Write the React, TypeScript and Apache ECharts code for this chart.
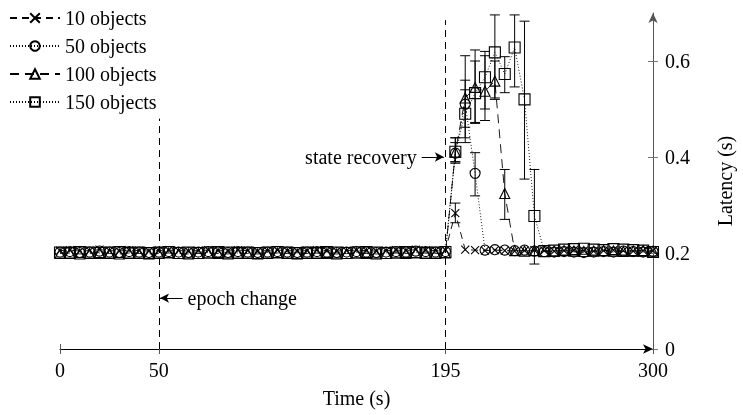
import React, { useEffect, useRef } from "react";
import * as echarts from "echarts";

const times = [
  0, 5, 10, 15, 20, 25, 30, 35, 40, 45, 50, 55, 60, 65, 70, 75, 80, 85, 90, 95,
  100, 105, 110, 115, 120, 125, 130, 135, 140, 145, 150, 155, 160, 165, 170, 175, 180, 185, 190, 195,
  200, 205, 210, 215, 220, 225, 230, 235, 240, 245, 250, 255, 260, 265, 270, 275, 280, 285, 290, 295, 300,
];

const xTickValues = [0, 50, 195, 300];
const yTickValues = [0, 0.2, 0.4, 0.6];
const seriesNames = ["10 objects", "50 objects", "100 objects", "150 objects"];

const latency10 = [
  0.205, 0.206, 0.204, 0.205, 0.207, 0.205, 0.204, 0.206, 0.205, 0.204,
  0.205, 0.206, 0.205, 0.204, 0.205, 0.206, 0.205, 0.204, 0.206, 0.205,
  0.204, 0.205, 0.206, 0.205, 0.204, 0.205, 0.206, 0.205, 0.204, 0.205,
  0.206, 0.205, 0.204, 0.205, 0.206, 0.205, 0.207, 0.206, 0.205, 0.206,
  0.283,
  0.207, 0.206, 0.205, 0.206, 0.205, 0.204, 0.205, 0.206, 0.205, 0.204,
  0.205, 0.206, 0.205, 0.204, 0.205, 0.206, 0.205, 0.204, 0.205, 0.205,
];
const latency50 = [
  0.202, 0.203, 0.201, 0.202, 0.204, 0.202, 0.201, 0.203, 0.202, 0.201,
  0.202, 0.203, 0.202, 0.201, 0.202, 0.203, 0.202, 0.201, 0.203, 0.202,
  0.201, 0.202, 0.203, 0.202, 0.201, 0.202, 0.203, 0.202, 0.201, 0.202,
  0.203, 0.202, 0.201, 0.202, 0.203, 0.202, 0.204, 0.203, 0.202, 0.203,
  0.408, 0.51, 0.366,
  0.206, 0.207, 0.206, 0.205, 0.206, 0.204, 0.203, 0.202, 0.203, 0.202,
  0.201, 0.202, 0.203, 0.202, 0.204, 0.203, 0.202, 0.203,
];
const latency100 = [
  0.199, 0.2, 0.198, 0.199, 0.201, 0.199, 0.198, 0.2, 0.199, 0.198,
  0.199, 0.2, 0.199, 0.198, 0.199, 0.2, 0.199, 0.198, 0.2, 0.199,
  0.198, 0.199, 0.2, 0.199, 0.198, 0.199, 0.2, 0.199, 0.198, 0.199,
  0.2, 0.199, 0.198, 0.199, 0.2, 0.199, 0.201, 0.2, 0.199, 0.2,
  0.41, 0.523, 0.545, 0.537, 0.558, 0.324,
  0.205, 0.204, 0.205, 0.203, 0.204, 0.205, 0.204, 0.203, 0.204, 0.205,
  0.204, 0.203, 0.204, 0.205, 0.204,
];
const latency150 = [
  0.201, 0.2, 0.202, 0.201, 0.2, 0.201, 0.202, 0.2, 0.201, 0.2,
  0.201, 0.202, 0.2, 0.201, 0.2, 0.201, 0.202, 0.201, 0.2, 0.201,
  0.2, 0.201, 0.202, 0.201, 0.2, 0.201, 0.2, 0.202, 0.201, 0.2,
  0.201, 0.202, 0.201, 0.2, 0.201, 0.202, 0.201, 0.2, 0.201, 0.202,
  0.411, 0.49, 0.533, 0.566, 0.618, 0.573, 0.628, 0.52, 0.277,
  0.204, 0.205, 0.207, 0.208, 0.209, 0.207, 0.206, 0.208, 0.207, 0.206,
  0.205, 0.202,
];

// error bars: [time, low, high]
const err10 = [[200, 0.263, 0.304]];
const err50 = [[200, 0.39, 0.43], [205, 0.462, 0.56], [210, 0.319, 0.409]];
const err100 = [
  [200, 0.39, 0.44], [205, 0.43, 0.611], [210, 0.472, 0.623],
  [215, 0.476, 0.611], [220, 0.52, 0.6], [225, 0.27, 0.374],
];
const err150 = [
  [200, 0.387, 0.44], [205, 0.44, 0.54], [210, 0.47, 0.6], [215, 0.5, 0.62],
  [220, 0.523, 0.696], [225, 0.534, 0.609], [230, 0.546, 0.696],
  [235, 0.354, 0.683], [240, 0.177, 0.374],
];

const epochTime = 50;
const epochLineTop = 0.48;
const recoveryTime = 195;
const recoveryLineTop = 0.685;
const epochLabelY = 0.106;
const recoveryLabelY = 0.4;

const FONT = "Liberation Serif";

function errorSeries(data: number[][]) {
  return {
    type: "custom",
    silent: true,
    z: 3,
    encode: { x: 0, y: [1, 2] },
    data,
    renderItem: (_params: any, api: any) => {
      const x = api.value(0);
      const lo = api.coord([x, api.value(1)]);
      const hi = api.coord([x, api.value(2)]);
      const hw = 5;
      const style = { stroke: "#000", lineWidth: 1, fill: "none" };
      return {
        type: "group",
        children: [
          { type: "line", shape: { x1: lo[0], y1: lo[1], x2: hi[0], y2: hi[1] }, style },
          { type: "line", shape: { x1: lo[0] - hw, y1: lo[1], x2: lo[0] + hw, y2: lo[1] }, style },
          { type: "line", shape: { x1: hi[0] - hw, y1: hi[1], x2: hi[0] + hw, y2: hi[1] }, style },
        ],
      };
    },
  };
}

const symbols = [
  "path://M0,0L10,10M0,10L10,0",
  "circle",
  "triangle",
  "rect",
];
const symbolSizes = [8, 10, 10, 11];
const dashTypes: any[] = [[7, 5], [1, 2], [9, 6], [1, 2]];
const values = [latency10, latency50, latency100, latency150];
const errors = [err10, err50, err100, err150];

export default function App() {
  const ref = useRef<HTMLDivElement>(null);
  useEffect(() => {
    if (!ref.current) return;
    const chart = echarts.init(ref.current, undefined, { renderer: "svg" });
    const lineSeries: any[] = seriesNames.map((name, k) => ({
      name,
      type: "line",
      data: times.map((t, i) => [t, values[k][i]]),
      symbol: symbols[k],
      symbolSize: symbolSizes[k],
      showSymbol: true,
      color: "#000",
      itemStyle: { color: "rgba(0,0,0,0)", borderColor: "#000", borderWidth: 1.1 },
      lineStyle: { color: "#000", width: 0.9, type: dashTypes[k] },
      z: 4,
    }));
    lineSeries[0].markLine = {
      silent: true,
      symbol: ["none", "none"],
      label: { show: false },
      lineStyle: { type: [7, 5], color: "#000", width: 1 },
      data: [
        [{ coord: [epochTime, 0] }, { coord: [epochTime, epochLineTop] }],
        [{ coord: [recoveryTime, 0] }, { coord: [recoveryTime, recoveryLineTop] }],
      ],
    };
    lineSeries[1].markLine = {
      silent: true,
      symbol: ["none", "arrow"],
      symbolSize: [7, 9],
      lineStyle: { type: "solid", color: "#000", width: 1 },
      label: {
        show: true,
        position: "start",
        color: "#000",
        fontFamily: FONT,
        fontSize: 20,
        distance: 5,
      },
      data: [
        [
          { coord: [183, recoveryLabelY], label: { formatter: "state recovery" } },
          { coord: [194.2, recoveryLabelY] },
        ],
        [
          { coord: [62, epochLabelY], label: { formatter: "epoch change" } },
          { coord: [50.6, epochLabelY] },
        ],
      ],
    };
    const option: any = {
      animation: false,
      textStyle: { fontFamily: FONT },
      legend: {
        data: seriesNames,
        orient: "vertical",
        left: 4,
        top: 3,
        itemWidth: 50,
        itemHeight: 12,
        itemGap: 8,
        textStyle: { fontFamily: FONT, fontSize: 20, color: "#000" },
      },
      grid: { left: 60, right: 86, top: 13, bottom: 66 },
      xAxis: [
        {
          type: "value",
          min: 0,
          max: 300,
          name: "Time (s)",
          nameLocation: "middle",
          nameGap: 39,
          nameTextStyle: { fontFamily: FONT, fontSize: 20, color: "#000" },
          axisLine: { onZero: false, lineStyle: { color: "#000", width: 1 }, symbol: ["none", "arrow"], symbolSize: [7, 10] },
          axisTick: { show: true, length: 5, customValues: xTickValues, lineStyle: { color: "#555" } },
          axisLabel: { customValues: xTickValues, fontFamily: FONT, fontSize: 20, color: "#000", margin: 11 },
          splitLine: { show: false },
        },
        {
          type: "value",
          min: 0,
          max: 300,
          position: "bottom",
          axisLine: { show: false, onZero: false },
          axisTick: { show: true, inside: true, length: 5, customValues: xTickValues, lineStyle: { color: "#555" } },
          axisLabel: { show: false },
          splitLine: { show: false },
        },
      ],
      yAxis: [
        {
          type: "value",
          position: "right",
          min: 0,
          max: 0.7,
          name: "Latency (s)",
          nameLocation: "middle",
          nameRotate: 90,
          nameGap: 62,
          nameTextStyle: { fontFamily: FONT, fontSize: 20, color: "#000" },
          axisLine: { show: true, onZero: false, lineStyle: { color: "#555", width: 1 }, symbol: ["none", "arrow"], symbolSize: [7, 10] },
          axisTick: { show: true, length: 5, customValues: yTickValues, lineStyle: { color: "#777" } },
          axisLabel: {
            customValues: yTickValues,
            fontFamily: FONT,
            fontSize: 20,
            color: "#000",
            margin: 12,
            formatter: (v: number) => String(Math.round(v * 10) / 10),
          },
          splitLine: { show: false },
        },
        {
          type: "value",
          position: "right",
          min: 0,
          max: 0.7,
          axisLine: { show: false, onZero: false },
          axisTick: { show: true, inside: true, length: 5, customValues: yTickValues, lineStyle: { color: "#777" } },
          axisLabel: { show: false },
          splitLine: { show: false },
        },
      ],
      series: [...lineSeries, ...errors.map((e) => errorSeries(e))],
    };
    chart.setOption(option);
    return () => chart.dispose();
  }, []);
  return (
    <div
      ref={ref}
      style={{ position: "fixed", left: 0, top: 0, width: 743, height: 415 }}
    />
  );
}
